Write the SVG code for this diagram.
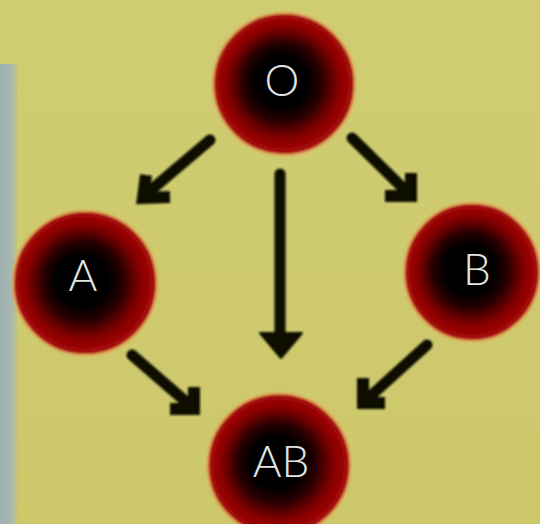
<svg xmlns="http://www.w3.org/2000/svg" width="540" height="524" viewBox="0 0 540 524">
<style>
.cell{fill:url(#rbc);stroke:#e3a55a;stroke-width:2.2;filter:url(#soft)}
.lbl{font-family:"Lato","Liberation Sans",sans-serif;font-weight:300;font-size:44px;fill:#e2e6e2;text-anchor:middle}
.shaft{fill:none;stroke:#0a0a06;stroke-width:11;stroke-linecap:round}
.head{fill:none;stroke:#0a0a06;stroke-width:12;stroke-linejoin:miter;stroke-linecap:butt}
</style>
<defs>
<radialGradient id="rbc" cx="0.5" cy="0.5" r="0.5" fx="0.47" fy="0.47">
<stop offset="0" stop-color="#000000"/>
<stop offset="0.38" stop-color="#030000"/>
<stop offset="0.56" stop-color="#2a0000"/>
<stop offset="0.7" stop-color="#650000"/>
<stop offset="0.82" stop-color="#8e0202"/>
<stop offset="0.94" stop-color="#a00808"/>
<stop offset="1" stop-color="#b0160e"/>
</radialGradient>
<linearGradient id="strip" x1="0" y1="0" x2="1" y2="0">
<stop offset="0" stop-color="#9fb2b2"/>
<stop offset="0.7" stop-color="#a8b8ae"/>
<stop offset="1" stop-color="#c3c47a"/>
</linearGradient>
<linearGradient id="bg" x1="0" y1="0" x2="0" y2="1">
<stop offset="0" stop-color="#cfcc72"/>
<stop offset="1" stop-color="#cdc86a"/>
</linearGradient>
<filter id="soft" x="-10%" y="-10%" width="120%" height="120%"><feGaussianBlur stdDeviation="0.8"/></filter>
</defs>
<rect x="0" y="0" width="540" height="524" fill="url(#bg)"/>
<rect x="0" y="64" width="17" height="460" fill="url(#strip)"/>
<g id="connectors" filter="url(#soft)">
<line class="shaft" x1="210" y1="140" x2="144" y2="196"/>
<path class="head" d="M146,175 L143,198 L170,197"/>
<line class="shaft" x1="352" y1="138" x2="409" y2="194"/>
<path class="head" d="M411,173 L411,196 L385,196"/>
<line class="shaft" x1="280" y1="174" x2="280" y2="338"/>
<path d="M260,333 L302,333 L281,358 Z" fill="#0a0a06" stroke="#0a0a06" stroke-width="2" stroke-linejoin="round"/>
<line class="shaft" x1="132" y1="355" x2="192" y2="407"/>
<path class="head" d="M194,387 L194,409 L170,409"/>
<line class="shaft" x1="427" y1="345" x2="365" y2="401"/>
<path class="head" d="M363,378 L363,403 L385,403"/>
</g>
<g id="node-O">
<circle class="cell" cx="284" cy="84" r="71"/>
<text class="lbl" x="282" y="96">O</text>
</g>
<g id="node-A">
<circle class="cell" cx="85" cy="283" r="72"/>
<text class="lbl" x="83" y="291">A</text>
</g>
<g id="node-B">
<ellipse class="cell" cx="472" cy="272" rx="68" ry="69"/>
<text class="lbl" x="477" y="285">B</text>
</g>
<g id="node-AB">
<circle class="cell" cx="279" cy="465" r="71.5"/>
<text class="lbl" x="281" y="477">AB</text>
</g>
</svg>
